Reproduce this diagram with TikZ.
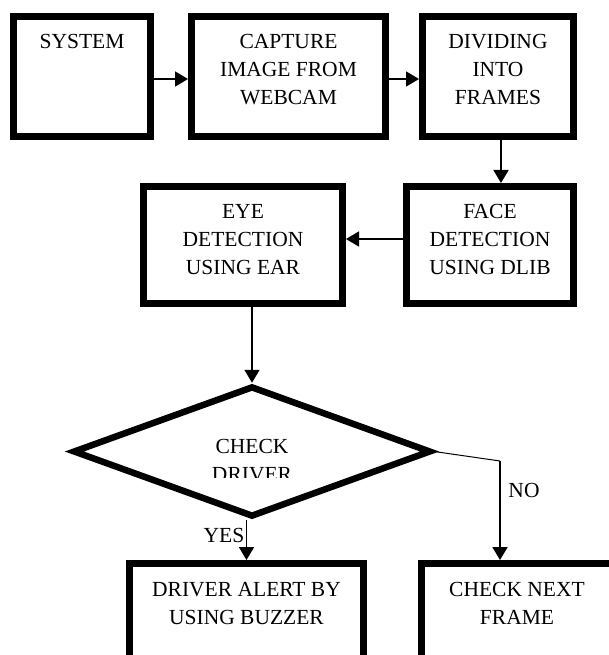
\documentclass[tikz,border=0pt]{standalone}
\usepackage{fontspec}
\setmainfont{Liberation Serif}
\usetikzlibrary{arrows.meta,shapes.geometric}
\begin{document}
\begin{tikzpicture}[x=1pt,y=-1pt,
  box/.style={draw, line width=7pt, rectangle, inner sep=0pt},
  txt/.style={font=\fontsize{21.5}{28}\selectfont, align=center, inner sep=0pt, anchor=north},
  conn/.style={line width=1.8pt, -{Triangle[length=13pt,width=15pt]}}]
\useasboundingbox (0,0) rectangle (609,655);
\clip (0,0) rectangle (609,655);
\fill[white] (0,0) rectangle (609,655);

% process boxes
\node[box, minimum width=137pt, minimum height=120pt] (sys)   at (82,76.5)   {};
\node[box, minimum width=194pt, minimum height=120pt] (cap)   at (288.5,76.5) {};
\node[box, minimum width=151pt, minimum height=120pt] (div)   at (498,76.5)  {};
\node[box, minimum width=199pt, minimum height=117pt] (eye)   at (243,245)   {};
\node[box, minimum width=167pt, minimum height=117pt] (face)  at (490,245)   {};
\node[box, minimum width=234pt, minimum height=117pt] (alert) at (246.5,622) {};
\node[box, minimum width=195pt, minimum height=117pt] (next)  at (519,622)   {};

% decision
\node[diamond, draw, line width=6.5pt, minimum width=358pt, minimum height=131pt, inner sep=0pt] (chk) at (252,451.5) {};

% box texts
\node[txt] (sys-t)   at (82,34.4)    {SYSTEM};
\node[txt] (cap-t)   at (288.5,34.4) {CAPTURE\\IMAGE FROM\\WEBCAM};
\node[txt] (div-t)   at (498,34.4)   {DIVIDING\\INTO\\FRAMES};
\node[txt] (eye-t)   at (243,204.4)  {EYE\\DETECTION\\USING EAR};
\node[txt] (face-t)  at (490,204.4)  {FACE\\DETECTION\\USING DLIB};
\node[txt] (alert-t) at (246.5,582.4) {DRIVER ALERT BY\\USING BUZZER};
\node[txt] (next-t)  at (517,582.4)  {CHECK NEXT\\FRAME};
\begin{scope}
  \clip (150,425) rectangle (350,477);
  \node[txt] (chk-t) at (252,439.4) {CHECK\\DRIVER};
\end{scope}

% branch labels
\node[txt, anchor=base] (yes) at (224,542) {YES};
\node[txt, anchor=base] (no)  at (524,497) {NO};

% helper coordinates for connector routing
\coordinate (row1) at (0,79);
\coordinate (downx) at (501,0);
\coordinate (row2) at (0,239);
\coordinate (nobend) at (500,461);

% connectors
\draw[conn] (sys.east |- row1) -- (cap.west |- row1);
\draw[conn] (cap.east |- row1) -- (div.west |- row1);
\draw[conn] (div.south -| downx) -- (face.north -| downx);
\draw[conn] (face.west |- row2) -- (eye.east |- row2);
\draw[conn] (eye.south -| chk.north) -- (chk.north);
\draw[conn] (chk.south -| alert.north) -- (alert.north);
\draw[line width=1pt] (chk.east) -- (nobend);
\draw[conn] (nobend) -- (next.north -| nobend);
\end{tikzpicture}
\end{document}
